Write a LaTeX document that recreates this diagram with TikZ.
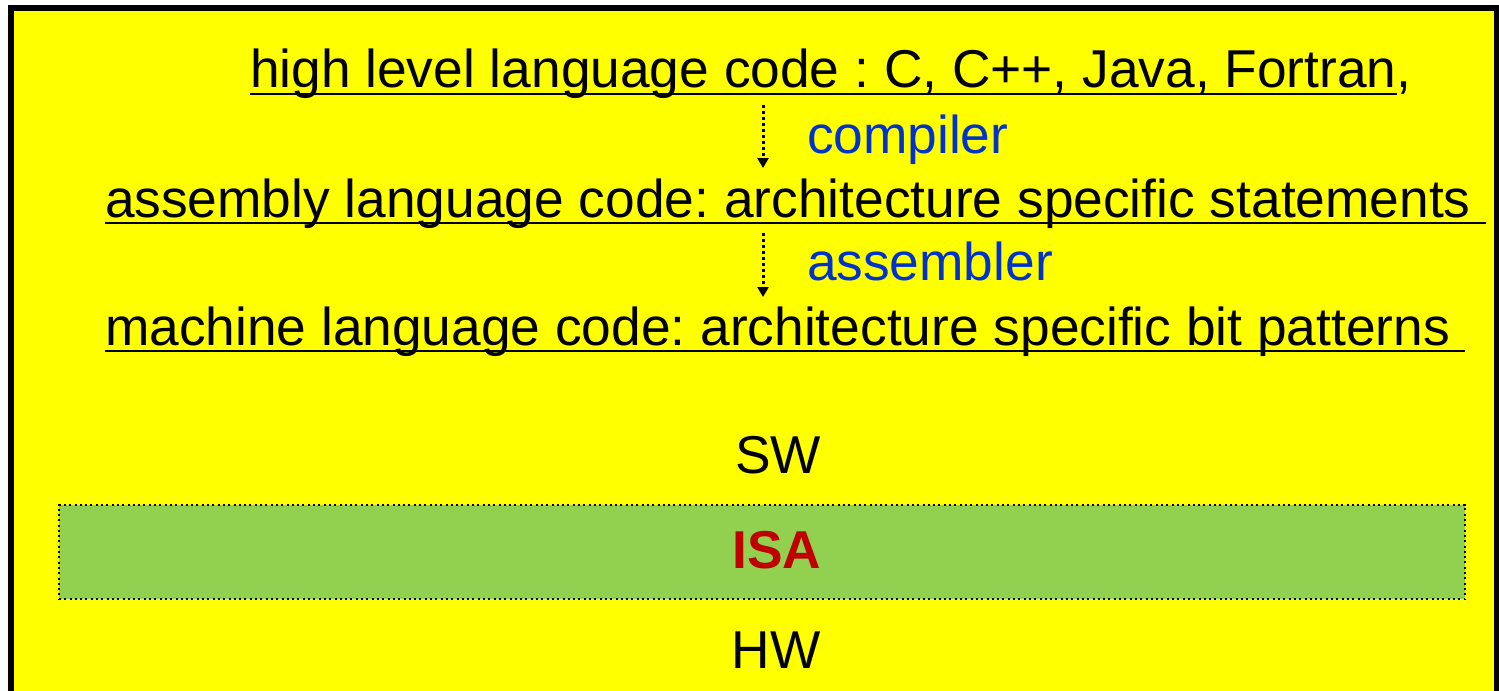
\documentclass[tikz,border=0pt]{standalone}
\usepackage{fontspec}
\setmainfont{Liberation Sans}
\usetikzlibrary{arrows.meta}

\definecolor{panelyellow}{RGB}{255,255,0}
\definecolor{isagreen}{RGB}{146,208,80}
\definecolor{isared}{RGB}{192,0,0}
\definecolor{toolblue}{RGB}{0,51,204}

% underline drawn through the descenders, as in slide text
\newcommand{\slideul}[1]{\setbox0\hbox{#1}\rlap{\rule[-7bp]{\wd0}{2bp}}\box0}

\tikzset{
  big/.style={font=\fontsize{53.3bp}{60bp}\selectfont\frenchspacing, inner sep=0pt, outer sep=0pt},
  codeline/.style={big, anchor=base west, text=black},
  tool/.style={big, anchor=base west, text=toolblue},
  layer/.style={big, anchor=base, text=black},
  flow/.style={line width=3bp, dash pattern=on 3bp off 3bp,
    -{Triangle[width=11bp,length=10bp]}},
}

\begin{document}
\begin{tikzpicture}[x=1bp, y=-1bp]
  \useasboundingbox (0,0) rectangle (1499,691);
  \fill[white] (0,0) rectangle (1499,691);

  % framed yellow panel (runs off the bottom and right edges)
  \begin{scope}
    \clip (0,0) rectangle (1499,691);
    \fill[black] (8,5) rectangle (1505,700);
    \fill[panelyellow] (14,11) rectangle (1494,700);
  \end{scope}

  % language levels
  \node[codeline] (hll) at (250,88)
    {\slideul{high level language code : C, C++, Java, Fortran},};
  \node[codeline] (asm) at (105,217)
    {\slideul{assembly language code: architecture specific statements }};
  \node[codeline] (mach) at (105,345)
    {\slideul{machine language code: architecture specific bit patterns }};

  % translation steps
  \coordinate (c1s) at (763,105);
  \coordinate (c1e) at (763,168);
  \coordinate (c2s) at (763,233);
  \coordinate (c2e) at (763,297);
  \draw[flow] (c1s) -- (c1e);
  \draw[flow] (c2s) -- (c2e);
  \node[tool] (comp) at (807,153) {compiler};
  \node[tool] (asmb) at (807,280) {assembler};

  % software / hardware boundary
  \node[layer] (sw) at (778,473) {SW};
  \node[draw=black, fill=isagreen, line width=2bp,
        dash pattern=on 2bp off 3.3bp,
        minimum width=1406bp, minimum height=94bp, inner sep=0pt]
        (isabox) at (762,552) {};
  \node[layer, text=isared, font=\fontsize{53.3bp}{60bp}\selectfont\bfseries]
        (isa) at (777,568) {ISA};
  \node[layer] (hw) at (776,668) {HW};
\end{tikzpicture}
\end{document}
